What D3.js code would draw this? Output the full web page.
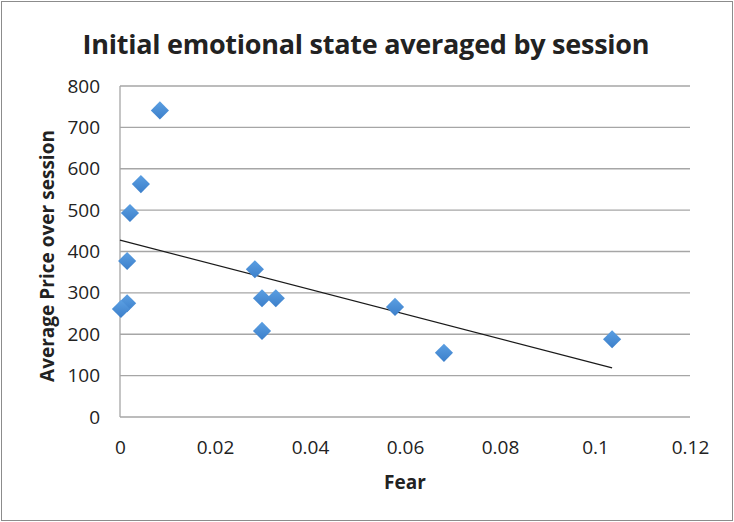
<!DOCTYPE html>
<html>
<head>
<meta charset="utf-8">
<script src="https://cdn.jsdelivr.net/npm/d3@7"></script>
<style>
	body { margin: 0; background: #fff; }
	text { font-family: "Open Sans", "Liberation Sans", sans-serif; fill: #222; }
</style>
</head>
<body>
<div id="chart-area"></div>
<script>

// DATA
let fear  = [0.0084, 0.0044, 0.0021, 0.0015, 0.0015, 0.0002, 0.0284, 0.0299, 0.0328, 0.0299, 0.0579, 0.0682, 0.1036];
let price = [741, 563, 493, 377, 275, 261, 357, 287, 287, 208, 266, 155, 188];
let xTicks = [0, 0.02, 0.04, 0.06, 0.08, 0.1, 0.12];
let yTicks = [0, 100, 200, 300, 400, 500, 600, 700, 800];

// CHART AREA
let W = 734, H = 522;
let margin = {top: 86, right: 44, bottom: 105, left: 120},
	width = 690 - margin.left,
	height = 417 - margin.top;

let root = d3.select("#chart-area").append("svg")
	.attr("width", W)
	.attr("height", H);

root.append("rect")
	.attr("x", 1.5).attr("y", 1.5)
	.attr("width", W - 3).attr("height", H - 3)
	.attr("fill", "#fff")
	.attr("stroke", "#8c8c8c");

let defs = root.append("defs");
let grad = defs.append("linearGradient")
	.attr("id", "dia").attr("x1", 0).attr("y1", 0).attr("x2", 0).attr("y2", 1);
grad.append("stop").attr("offset", "0%").attr("stop-color", "#5b9fe2");
grad.append("stop").attr("offset", "100%").attr("stop-color", "#3c7fca");

let svg = root.append("g")
	.attr("transform", "translate(" + margin.left + "," + margin.top + ")");

// scales
let xScale = d3.scaleLinear().domain([0, 0.12]).range([0, width]);
let yScale = d3.scaleLinear().domain([0, 800]).range([height, 0]);

// gridlines
svg.selectAll(".grid")
	.data(yTicks)
	.enter()
	.append("line")
	.attr("class", "grid")
	.attr("x1", 0).attr("x2", width)
	.attr("y1", d => yScale(d)).attr("y2", d => yScale(d))
	.attr("stroke", "#a6a6a6")
	.attr("stroke-width", 1.3);

svg.append("line")
	.attr("x1", 0).attr("x2", 0)
	.attr("y1", 0).attr("y2", height)
	.attr("stroke", "#a6a6a6")
	.attr("stroke-width", 1.3);

// axes (labels only)
let xAxis = d3.axisBottom(xScale).tickValues(xTicks).tickSize(0).tickPadding(24)
	.tickFormat(d => d === 0 ? "0" : String(+d.toFixed(2)));
let yAxis = d3.axisLeft(yScale).tickValues(yTicks).tickSize(0).tickPadding(20);

let xAxisGroup = svg.append("g")
	.attr("class", "x-axis axis")
	.attr("transform", "translate(0," + height + ")")
	.call(xAxis);
let yAxisGroup = svg.append("g")
	.attr("class", "y-axis axis")
	.call(yAxis);

svg.selectAll(".axis path").remove();
svg.selectAll(".axis text")
	.style("font-size", "19px")
	.style("font-family", "'Open Sans', sans-serif")
	.attr("fill", "#222");

// trendline (least squares)
let mx = d3.mean(fear), my = d3.mean(price);
let slope = d3.sum(fear, (f, i) => (f - mx) * (price[i] - my)) / d3.sum(fear, f => (f - mx) * (f - mx));
let icpt = my - slope * mx;
let x0 = 0, x1 = d3.max(fear);

svg.append("line")
	.attr("x1", xScale(x0)).attr("y1", yScale(icpt + slope * x0))
	.attr("x2", xScale(x1)).attr("y2", yScale(icpt + slope * x1))
	.attr("stroke", "#1a1a1a")
	.attr("stroke-width", 1.2);

// points
let diamond = d3.symbol().type(d3.symbolDiamond2).size(210);
svg.selectAll(".pt")
	.data(fear)
	.enter()
	.append("path")
	.attr("class", "pt")
	.attr("d", diamond)
	.attr("transform", (d, i) => "translate(" + xScale(d) + "," + yScale(price[i]) + ")")
	.attr("fill", "url(#dia)");

// titles
root.append("text")
	.attr("x", 366).attr("y", 54)
	.attr("text-anchor", "middle")
	.style("font-size", "27px")
	.style("font-weight", "bold")
	.attr("textLength", 567)
	.text("Initial emotional state averaged by session");

root.append("text")
	.attr("x", 405).attr("y", 489)
	.attr("text-anchor", "middle")
	.style("font-size", "19px")
	.style("font-weight", "bold")
	.text("Fear");

root.append("text")
	.attr("transform", "translate(54,256) rotate(-90)")
	.attr("text-anchor", "middle")
	.style("font-size", "19px")
	.style("font-weight", "bold")
	.attr("textLength", 252)
	.text("Average Price over session");

</script>
</body>
</html>
